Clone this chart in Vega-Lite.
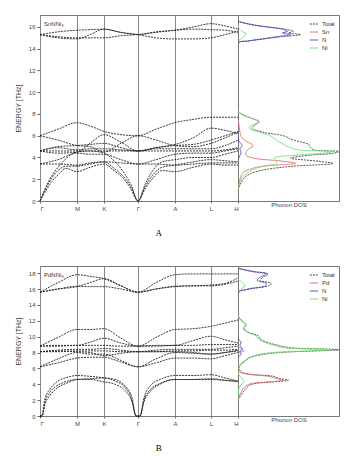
{
"$schema":"https://vega.github.io/schema/vega-lite/v6.json",
"padding":{"left":13,"top":14,"right":16,"bottom":0},
"config":{"font":"Liberation Sans","view":{"stroke":"#777","strokeWidth":1},
"axis":{"labelFontSize":6,"labelColor":"#444","tickColor":"#666","tickSize":3,"labelPadding":2,"titleFontSize":7,"titleFontWeight":"normal","titleColor":"#444","domain":false},
"legend":{"orient":"top-right","title":null,"labelFontSize":6,"labelColor":"#333","symbolType":"stroke","symbolSize":70,"symbolStrokeWidth":1,"rowPadding":-1,"padding":1,"offset":3,"labelOffset":3}},
"datasets":{
"dispA":[
{"b":"a1","k":0,"e":0},{"b":"a1","k":5,"e":0.8},{"b":"a1","k":11,"e":1.7},{"b":"a1","k":18,"e":2.4},{"b":"a1","k":26,"e":3.0},{"b":"a1","k":37,"e":2.7},{"b":"a1","k":50,"e":3.1},{"b":"a1","k":64,"e":3.4},{"b":"a1","k":74,"e":2.8},{"b":"a1","k":84,"e":2.0},{"b":"a1","k":91,"e":1.1},{"b":"a1","k":98,"e":0},{"b":"a1","k":105,"e":1.1},{"b":"a1","k":112,"e":2.0},{"b":"a1","k":122,"e":2.8},{"b":"a1","k":135,"e":2.7},{"b":"a1","k":153,"e":3.1},{"b":"a1","k":171,"e":3.4},{"b":"a1","k":185,"e":3.3},{"b":"a1","k":198,"e":3.3},
{"b":"a2","k":0,"e":0},{"b":"a2","k":5,"e":1.0},{"b":"a2","k":11,"e":2.0},{"b":"a2","k":18,"e":2.8},{"b":"a2","k":26,"e":3.2},{"b":"a2","k":37,"e":3.2},{"b":"a2","k":50,"e":3.4},{"b":"a2","k":64,"e":3.6},{"b":"a2","k":74,"e":3.0},{"b":"a2","k":84,"e":2.2},{"b":"a2","k":91,"e":1.3},{"b":"a2","k":98,"e":0},{"b":"a2","k":105,"e":1.3},{"b":"a2","k":112,"e":2.3},{"b":"a2","k":122,"e":3.1},{"b":"a2","k":135,"e":3.3},{"b":"a2","k":153,"e":3.6},{"b":"a2","k":171,"e":3.8},{"b":"a2","k":185,"e":3.7},{"b":"a2","k":198,"e":3.6},
{"b":"a3","k":0,"e":0},{"b":"a3","k":5,"e":1.1},{"b":"a3","k":11,"e":2.2},{"b":"a3","k":18,"e":3.1},{"b":"a3","k":26,"e":3.9},{"b":"a3","k":37,"e":4.5},{"b":"a3","k":50,"e":4.6},{"b":"a3","k":64,"e":4.4},{"b":"a3","k":74,"e":3.7},{"b":"a3","k":84,"e":2.6},{"b":"a3","k":91,"e":1.5},{"b":"a3","k":98,"e":0},{"b":"a3","k":105,"e":1.5},{"b":"a3","k":112,"e":2.7},{"b":"a3","k":122,"e":3.6},{"b":"a3","k":135,"e":3.8},{"b":"a3","k":153,"e":4.0},{"b":"a3","k":171,"e":4.0},{"b":"a3","k":185,"e":4.3},{"b":"a3","k":198,"e":4.6},
{"b":"o1","k":0,"e":3.4},{"b":"o1","k":18,"e":3.4},{"b":"o1","k":37,"e":3.3},{"b":"o1","k":50,"e":3.5},{"b":"o1","k":64,"e":3.6},{"b":"o1","k":81,"e":3.5},{"b":"o1","k":98,"e":3.4},{"b":"o1","k":116,"e":3.4},{"b":"o1","k":135,"e":3.3},{"b":"o1","k":153,"e":3.4},{"b":"o1","k":171,"e":3.5},{"b":"o1","k":185,"e":3.5},{"b":"o1","k":198,"e":3.5},
{"b":"o2","k":0,"e":3.4},{"b":"o2","k":18,"e":3.8},{"b":"o2","k":37,"e":4.4},{"b":"o2","k":50,"e":4.3},{"b":"o2","k":64,"e":4.3},{"b":"o2","k":81,"e":3.8},{"b":"o2","k":98,"e":3.4},{"b":"o2","k":116,"e":3.8},{"b":"o2","k":135,"e":4.3},{"b":"o2","k":153,"e":4.4},{"b":"o2","k":171,"e":4.4},{"b":"o2","k":185,"e":4.6},{"b":"o2","k":198,"e":4.8},
{"b":"o3","k":0,"e":4.6},{"b":"o3","k":18,"e":4.6},{"b":"o3","k":37,"e":4.6},{"b":"o3","k":50,"e":4.6},{"b":"o3","k":64,"e":4.6},{"b":"o3","k":81,"e":4.6},{"b":"o3","k":98,"e":4.6},{"b":"o3","k":116,"e":4.6},{"b":"o3","k":135,"e":4.6},{"b":"o3","k":153,"e":4.6},{"b":"o3","k":171,"e":4.6},{"b":"o3","k":185,"e":4.7},{"b":"o3","k":198,"e":4.9},
{"b":"o4","k":0,"e":4.6},{"b":"o4","k":18,"e":4.9},{"b":"o4","k":37,"e":4.7},{"b":"o4","k":50,"e":4.8},{"b":"o4","k":64,"e":4.8},{"b":"o4","k":81,"e":4.7},{"b":"o4","k":98,"e":4.6},{"b":"o4","k":116,"e":4.8},{"b":"o4","k":135,"e":4.8},{"b":"o4","k":153,"e":4.8},{"b":"o4","k":171,"e":4.8},{"b":"o4","k":185,"e":5.1},{"b":"o4","k":198,"e":5.6},
{"b":"o5","k":0,"e":4.6},{"b":"o5","k":18,"e":4.4},{"b":"o5","k":37,"e":4.5},{"b":"o5","k":50,"e":5.3},{"b":"o5","k":64,"e":6.1},{"b":"o5","k":81,"e":5.4},{"b":"o5","k":98,"e":4.6},{"b":"o5","k":116,"e":4.9},{"b":"o5","k":135,"e":5.2},{"b":"o5","k":153,"e":5.8},{"b":"o5","k":171,"e":6.7},{"b":"o5","k":185,"e":6.5},{"b":"o5","k":198,"e":6.2},
{"b":"o6","k":0,"e":6.0},{"b":"o6","k":18,"e":5.6},{"b":"o6","k":37,"e":5.1},{"b":"o6","k":50,"e":5.0},{"b":"o6","k":64,"e":4.5},{"b":"o6","k":81,"e":5.3},{"b":"o6","k":98,"e":6.0},{"b":"o6","k":116,"e":5.6},{"b":"o6","k":135,"e":5.1},{"b":"o6","k":153,"e":5.0},{"b":"o6","k":171,"e":5.3},{"b":"o6","k":185,"e":5.8},{"b":"o6","k":198,"e":6.3},
{"b":"o7","k":0,"e":6.0},{"b":"o7","k":18,"e":6.6},{"b":"o7","k":37,"e":7.2},{"b":"o7","k":50,"e":6.9},{"b":"o7","k":64,"e":6.4},{"b":"o7","k":81,"e":6.1},{"b":"o7","k":98,"e":6.0},{"b":"o7","k":116,"e":6.6},{"b":"o7","k":135,"e":7.2},{"b":"o7","k":153,"e":7.5},{"b":"o7","k":171,"e":7.7},{"b":"o7","k":185,"e":7.7},{"b":"o7","k":198,"e":7.7},
{"b":"o8","k":0,"e":4.6},{"b":"o8","k":18,"e":5.0},{"b":"o8","k":37,"e":5.1},{"b":"o8","k":50,"e":5.2},{"b":"o8","k":64,"e":5.3},{"b":"o8","k":81,"e":4.9},{"b":"o8","k":98,"e":4.6},{"b":"o8","k":116,"e":4.9},{"b":"o8","k":135,"e":5.1},{"b":"o8","k":153,"e":5.2},{"b":"o8","k":171,"e":5.6},{"b":"o8","k":185,"e":6.0},{"b":"o8","k":198,"e":6.4},
{"b":"h1","k":0,"e":15.3},{"b":"h1","k":18,"e":15.0},{"b":"h1","k":37,"e":14.9},{"b":"h1","k":50,"e":15.3},{"b":"h1","k":64,"e":15.8},{"b":"h1","k":81,"e":15.5},{"b":"h1","k":98,"e":15.3},{"b":"h1","k":116,"e":15.0},{"b":"h1","k":135,"e":14.9},{"b":"h1","k":153,"e":14.9},{"b":"h1","k":171,"e":15.0},{"b":"h1","k":185,"e":15.3},{"b":"h1","k":198,"e":15.6},
{"b":"h2","k":0,"e":15.3},{"b":"h2","k":18,"e":15.55},{"b":"h2","k":37,"e":15.7},{"b":"h2","k":50,"e":15.75},{"b":"h2","k":64,"e":15.8},{"b":"h2","k":81,"e":15.5},{"b":"h2","k":98,"e":15.3},{"b":"h2","k":116,"e":15.55},{"b":"h2","k":135,"e":15.7},{"b":"h2","k":153,"e":16.0},{"b":"h2","k":171,"e":16.3},{"b":"h2","k":185,"e":16.1},{"b":"h2","k":198,"e":15.8},
{"b":"h3","k":0,"e":15.3},{"b":"h3","k":18,"e":15.1},{"b":"h3","k":37,"e":15.0},{"b":"h3","k":50,"e":15.0},{"b":"h3","k":64,"e":15.0},{"b":"h3","k":81,"e":15.2},{"b":"h3","k":98,"e":15.3},{"b":"h3","k":116,"e":15.5},{"b":"h3","k":135,"e":15.7},{"b":"h3","k":153,"e":15.8},{"b":"h3","k":171,"e":15.75},{"b":"h3","k":185,"e":15.7},{"b":"h3","k":198,"e":15.5}
],
"dosA":[
{"el":"Total","e":1.0,"d":0},{"el":"Total","e":2.0,"d":0.05},{"el":"Total","e":2.5,"d":0.12},{"el":"Total","e":2.9,"d":0.28},{"el":"Total","e":3.2,"d":0.55},{"el":"Total","e":3.45,"d":0.94},{"el":"Total","e":3.65,"d":0.8},{"el":"Total","e":3.95,"d":0.52},{"el":"Total","e":4.2,"d":0.7},{"el":"Total","e":4.4,"d":0.95},{"el":"Total","e":4.55,"d":1.0},{"el":"Total","e":4.7,"d":0.75},{"el":"Total","e":4.9,"d":0.72},{"el":"Total","e":5.2,"d":0.7},{"el":"Total","e":5.6,"d":0.55},{"el":"Total","e":6.0,"d":0.45},{"el":"Total","e":6.3,"d":0.26},{"el":"Total","e":6.7,"d":0.14},{"el":"Total","e":7.0,"d":0.17},{"el":"Total","e":7.3,"d":0.21},{"el":"Total","e":7.6,"d":0.14},{"el":"Total","e":7.9,"d":0.06},{"el":"Total","e":8.3,"d":0},{"el":"Total","e":14.5,"d":0},{"el":"Total","e":14.7,"d":0.1},{"el":"Total","e":14.9,"d":0.26},{"el":"Total","e":15.1,"d":0.43},{"el":"Total","e":15.3,"d":0.62},{"el":"Total","e":15.45,"d":0.5},{"el":"Total","e":15.6,"d":0.55},{"el":"Total","e":15.8,"d":0.46},{"el":"Total","e":16.0,"d":0.3},{"el":"Total","e":16.2,"d":0.15},{"el":"Total","e":16.5,"d":0},
{"el":"Sn","e":1.0,"d":0},{"el":"Sn","e":2.0,"d":0.02},{"el":"Sn","e":2.6,"d":0.05},{"el":"Sn","e":2.9,"d":0.11},{"el":"Sn","e":3.2,"d":0.25},{"el":"Sn","e":3.45,"d":0.57},{"el":"Sn","e":3.7,"d":0.4},{"el":"Sn","e":3.9,"d":0.18},{"el":"Sn","e":4.2,"d":0.08},{"el":"Sn","e":4.5,"d":0.08},{"el":"Sn","e":4.8,"d":0.11},{"el":"Sn","e":5.1,"d":0.15},{"el":"Sn","e":5.4,"d":0.1},{"el":"Sn","e":5.8,"d":0.04},{"el":"Sn","e":6.3,"d":0.02},{"el":"Sn","e":7.0,"d":0.01},{"el":"Sn","e":7.5,"d":0},
{"el":"N","e":3.8,"d":0},{"el":"N","e":4.2,"d":0.02},{"el":"N","e":4.5,"d":0.03},{"el":"N","e":4.8,"d":0.02},{"el":"N","e":5.1,"d":0.04},{"el":"N","e":5.5,"d":0.01},{"el":"N","e":6.0,"d":0},{"el":"N","e":14.5,"d":0},{"el":"N","e":14.7,"d":0.09},{"el":"N","e":14.9,"d":0.24},{"el":"N","e":15.1,"d":0.38},{"el":"N","e":15.3,"d":0.52},{"el":"N","e":15.45,"d":0.44},{"el":"N","e":15.6,"d":0.49},{"el":"N","e":15.8,"d":0.44},{"el":"N","e":16.0,"d":0.29},{"el":"N","e":16.2,"d":0.14},{"el":"N","e":16.5,"d":0},
{"el":"Ni","e":1.0,"d":0},{"el":"Ni","e":2.0,"d":0.03},{"el":"Ni","e":2.5,"d":0.08},{"el":"Ni","e":2.9,"d":0.15},{"el":"Ni","e":3.2,"d":0.25},{"el":"Ni","e":3.45,"d":0.38},{"el":"Ni","e":3.7,"d":0.38},{"el":"Ni","e":3.95,"d":0.36},{"el":"Ni","e":4.2,"d":0.55},{"el":"Ni","e":4.4,"d":0.85},{"el":"Ni","e":4.55,"d":0.94},{"el":"Ni","e":4.7,"d":0.6},{"el":"Ni","e":4.9,"d":0.52},{"el":"Ni","e":5.2,"d":0.45},{"el":"Ni","e":5.6,"d":0.38},{"el":"Ni","e":6.0,"d":0.32},{"el":"Ni","e":6.3,"d":0.22},{"el":"Ni","e":6.7,"d":0.11},{"el":"Ni","e":7.0,"d":0.15},{"el":"Ni","e":7.3,"d":0.2},{"el":"Ni","e":7.6,"d":0.13},{"el":"Ni","e":7.9,"d":0.05},{"el":"Ni","e":8.3,"d":0},{"el":"Ni","e":14.6,"d":0},{"el":"Ni","e":14.9,"d":0.03},{"el":"Ni","e":15.2,"d":0.07},{"el":"Ni","e":15.4,"d":0.08},{"el":"Ni","e":15.6,"d":0.04},{"el":"Ni","e":15.9,"d":0.01},{"el":"Ni","e":16.2,"d":0}
],
"dispB":[
{"b":"a1","k":0,"e":0},{"b":"a1","k":2,"e":0},{"b":"a1","k":5,"e":1.8},{"b":"a1","k":10,"e":3.0},{"b":"a1","k":18,"e":3.9},{"b":"a1","k":28,"e":4.4},{"b":"a1","k":37,"e":4.6},{"b":"a1","k":50,"e":4.6},{"b":"a1","k":64,"e":4.3},{"b":"a1","k":75,"e":4.0},{"b":"a1","k":85,"e":3.2},{"b":"a1","k":92,"e":1.8},{"b":"a1","k":96,"e":0},{"b":"a1","k":100,"e":0},{"b":"a1","k":104,"e":1.8},{"b":"a1","k":111,"e":3.2},{"b":"a1","k":120,"e":4.0},{"b":"a1","k":135,"e":4.6},{"b":"a1","k":153,"e":4.6},{"b":"a1","k":171,"e":4.7},{"b":"a1","k":185,"e":4.5},{"b":"a1","k":198,"e":4.3},
{"b":"a2","k":0,"e":0},{"b":"a2","k":2,"e":0},{"b":"a2","k":5,"e":1.5},{"b":"a2","k":10,"e":2.6},{"b":"a2","k":18,"e":3.6},{"b":"a2","k":28,"e":4.2},{"b":"a2","k":37,"e":4.6},{"b":"a2","k":50,"e":4.7},{"b":"a2","k":64,"e":4.8},{"b":"a2","k":75,"e":4.4},{"b":"a2","k":85,"e":3.6},{"b":"a2","k":92,"e":2.0},{"b":"a2","k":96,"e":0},{"b":"a2","k":100,"e":0},{"b":"a2","k":104,"e":2.0},{"b":"a2","k":111,"e":3.4},{"b":"a2","k":120,"e":4.1},{"b":"a2","k":135,"e":4.6},{"b":"a2","k":153,"e":4.6},{"b":"a2","k":171,"e":4.6},{"b":"a2","k":185,"e":4.5},{"b":"a2","k":198,"e":4.4},
{"b":"a3","k":0,"e":0},{"b":"a3","k":2,"e":0},{"b":"a3","k":5,"e":2.2},{"b":"a3","k":10,"e":3.4},{"b":"a3","k":18,"e":4.4},{"b":"a3","k":28,"e":4.9},{"b":"a3","k":37,"e":5.1},{"b":"a3","k":50,"e":5.0},{"b":"a3","k":64,"e":4.8},{"b":"a3","k":75,"e":4.6},{"b":"a3","k":85,"e":3.8},{"b":"a3","k":92,"e":2.3},{"b":"a3","k":96,"e":0},{"b":"a3","k":100,"e":0},{"b":"a3","k":104,"e":2.3},{"b":"a3","k":111,"e":3.9},{"b":"a3","k":120,"e":4.6},{"b":"a3","k":135,"e":5.1},{"b":"a3","k":153,"e":5.1},{"b":"a3","k":171,"e":5.2},{"b":"a3","k":185,"e":4.8},{"b":"a3","k":198,"e":4.4},
{"b":"m1","k":0,"e":6.2},{"b":"m1","k":18,"e":6.7},{"b":"m1","k":37,"e":7.3},{"b":"m1","k":50,"e":7.4},{"b":"m1","k":64,"e":7.4},{"b":"m1","k":81,"e":6.8},{"b":"m1","k":98,"e":6.2},{"b":"m1","k":116,"e":6.7},{"b":"m1","k":135,"e":7.3},{"b":"m1","k":153,"e":7.3},{"b":"m1","k":171,"e":7.2},{"b":"m1","k":185,"e":7.6},{"b":"m1","k":198,"e":8.0},
{"b":"m2","k":0,"e":6.2},{"b":"m2","k":18,"e":7.2},{"b":"m2","k":37,"e":8.0},{"b":"m2","k":50,"e":7.8},{"b":"m2","k":64,"e":7.8},{"b":"m2","k":81,"e":7.0},{"b":"m2","k":98,"e":6.2},{"b":"m2","k":116,"e":7.2},{"b":"m2","k":135,"e":8.0},{"b":"m2","k":153,"e":7.9},{"b":"m2","k":171,"e":7.8},{"b":"m2","k":185,"e":8.0},{"b":"m2","k":198,"e":8.3},
{"b":"m3","k":0,"e":8.1},{"b":"m3","k":18,"e":8.1},{"b":"m3","k":37,"e":8.2},{"b":"m3","k":50,"e":8.2},{"b":"m3","k":64,"e":8.2},{"b":"m3","k":81,"e":8.1},{"b":"m3","k":98,"e":8.1},{"b":"m3","k":116,"e":8.1},{"b":"m3","k":135,"e":8.2},{"b":"m3","k":153,"e":8.2},{"b":"m3","k":171,"e":8.3},{"b":"m3","k":185,"e":8.3},{"b":"m3","k":198,"e":8.4},
{"b":"m4","k":0,"e":8.1},{"b":"m4","k":18,"e":8.3},{"b":"m4","k":37,"e":8.4},{"b":"m4","k":50,"e":8.4},{"b":"m4","k":64,"e":8.5},{"b":"m4","k":81,"e":8.3},{"b":"m4","k":98,"e":8.1},{"b":"m4","k":116,"e":8.3},{"b":"m4","k":135,"e":8.4},{"b":"m4","k":153,"e":8.4},{"b":"m4","k":171,"e":8.4},{"b":"m4","k":185,"e":8.6},{"b":"m4","k":198,"e":8.8},
{"b":"m5","k":0,"e":8.8},{"b":"m5","k":18,"e":8.8},{"b":"m5","k":37,"e":8.9},{"b":"m5","k":50,"e":8.9},{"b":"m5","k":64,"e":8.9},{"b":"m5","k":81,"e":8.8},{"b":"m5","k":98,"e":8.8},{"b":"m5","k":116,"e":8.8},{"b":"m5","k":135,"e":8.9},{"b":"m5","k":153,"e":8.9},{"b":"m5","k":171,"e":9.0},{"b":"m5","k":185,"e":9.0},{"b":"m5","k":198,"e":9.0},
{"b":"m6","k":0,"e":8.8},{"b":"m6","k":18,"e":8.9},{"b":"m6","k":37,"e":8.9},{"b":"m6","k":50,"e":9.3},{"b":"m6","k":64,"e":9.8},{"b":"m6","k":81,"e":9.2},{"b":"m6","k":98,"e":8.8},{"b":"m6","k":116,"e":8.9},{"b":"m6","k":135,"e":8.9},{"b":"m6","k":153,"e":9.5},{"b":"m6","k":171,"e":10.05},{"b":"m6","k":185,"e":9.6},{"b":"m6","k":198,"e":9.2},
{"b":"m7","k":0,"e":8.8},{"b":"m7","k":18,"e":9.9},{"b":"m7","k":37,"e":10.9},{"b":"m7","k":50,"e":10.9},{"b":"m7","k":64,"e":11.0},{"b":"m7","k":81,"e":9.8},{"b":"m7","k":98,"e":8.8},{"b":"m7","k":116,"e":9.9},{"b":"m7","k":135,"e":10.9},{"b":"m7","k":153,"e":11.0},{"b":"m7","k":171,"e":11.3},{"b":"m7","k":185,"e":11.7},{"b":"m7","k":198,"e":12.1},
{"b":"m8","k":0,"e":8.1},{"b":"m8","k":18,"e":8.2},{"b":"m8","k":37,"e":8.1},{"b":"m8","k":50,"e":8.0},{"b":"m8","k":64,"e":7.6},{"b":"m8","k":81,"e":7.9},{"b":"m8","k":98,"e":8.1},{"b":"m8","k":116,"e":8.1},{"b":"m8","k":135,"e":8.1},{"b":"m8","k":153,"e":8.0},{"b":"m8","k":171,"e":7.8},{"b":"m8","k":185,"e":8.0},{"b":"m8","k":198,"e":8.2},
{"b":"h1","k":0,"e":15.6},{"b":"h1","k":18,"e":16.0},{"b":"h1","k":37,"e":16.3},{"b":"h1","k":50,"e":16.8},{"b":"h1","k":64,"e":17.3},{"b":"h1","k":81,"e":16.4},{"b":"h1","k":98,"e":15.6},{"b":"h1","k":116,"e":16.0},{"b":"h1","k":135,"e":16.3},{"b":"h1","k":153,"e":16.4},{"b":"h1","k":171,"e":16.4},{"b":"h1","k":185,"e":16.6},{"b":"h1","k":198,"e":17.0},
{"b":"h2","k":0,"e":15.6},{"b":"h2","k":18,"e":16.8},{"b":"h2","k":37,"e":17.8},{"b":"h2","k":50,"e":17.6},{"b":"h2","k":64,"e":17.3},{"b":"h2","k":81,"e":16.4},{"b":"h2","k":98,"e":15.6},{"b":"h2","k":116,"e":16.8},{"b":"h2","k":135,"e":17.8},{"b":"h2","k":153,"e":17.9},{"b":"h2","k":171,"e":17.9},{"b":"h2","k":185,"e":17.9},{"b":"h2","k":198,"e":17.9},
{"b":"h3","k":0,"e":15.6},{"b":"h3","k":18,"e":16.0},{"b":"h3","k":37,"e":16.35},{"b":"h3","k":50,"e":16.3},{"b":"h3","k":64,"e":16.3},{"b":"h3","k":81,"e":16.0},{"b":"h3","k":98,"e":15.6},{"b":"h3","k":116,"e":16.0},{"b":"h3","k":135,"e":16.35},{"b":"h3","k":153,"e":16.4},{"b":"h3","k":171,"e":16.5},{"b":"h3","k":185,"e":16.7},{"b":"h3","k":198,"e":17.4}
],
"dosB":[
{"el":"Total","e":2.0,"d":0},{"el":"Total","e":3.0,"d":0.05},{"el":"Total","e":3.9,"d":0.12},{"el":"Total","e":4.3,"d":0.35},{"el":"Total","e":4.5,"d":0.5},{"el":"Total","e":4.75,"d":0.4},{"el":"Total","e":5.0,"d":0.35},{"el":"Total","e":5.3,"d":0.1},{"el":"Total","e":5.6,"d":0.03},{"el":"Total","e":6.2,"d":0.01},{"el":"Total","e":6.8,"d":0.06},{"el":"Total","e":7.3,"d":0.11},{"el":"Total","e":7.7,"d":0.22},{"el":"Total","e":8.0,"d":0.42},{"el":"Total","e":8.35,"d":1.0},{"el":"Total","e":8.6,"d":0.52},{"el":"Total","e":8.9,"d":0.4},{"el":"Total","e":9.2,"d":0.31},{"el":"Total","e":9.7,"d":0.22},{"el":"Total","e":10.1,"d":0.2},{"el":"Total","e":10.5,"d":0.11},{"el":"Total","e":11.0,"d":0.06},{"el":"Total","e":11.5,"d":0.08},{"el":"Total","e":12.0,"d":0.04},{"el":"Total","e":12.7,"d":0},{"el":"Total","e":15.5,"d":0},{"el":"Total","e":16.0,"d":0.12},{"el":"Total","e":16.4,"d":0.3},{"el":"Total","e":16.7,"d":0.33},{"el":"Total","e":17.1,"d":0.22},{"el":"Total","e":17.5,"d":0.25},{"el":"Total","e":17.9,"d":0.3},{"el":"Total","e":18.2,"d":0.16},{"el":"Total","e":18.6,"d":0},
{"el":"Pd","e":2.0,"d":0},{"el":"Pd","e":3.0,"d":0.03},{"el":"Pd","e":3.9,"d":0.09},{"el":"Pd","e":4.3,"d":0.3},{"el":"Pd","e":4.5,"d":0.45},{"el":"Pd","e":4.75,"d":0.37},{"el":"Pd","e":5.0,"d":0.3},{"el":"Pd","e":5.3,"d":0.08},{"el":"Pd","e":5.6,"d":0.01},{"el":"Pd","e":6.5,"d":0},{"el":"Pd","e":7.9,"d":0},{"el":"Pd","e":8.2,"d":0.06},{"el":"Pd","e":8.5,"d":0.03},{"el":"Pd","e":8.8,"d":0},
{"el":"N","e":7.4,"d":0},{"el":"N","e":7.8,"d":0.03},{"el":"N","e":8.1,"d":0.02},{"el":"N","e":8.5,"d":0.04},{"el":"N","e":8.9,"d":0.02},{"el":"N","e":9.3,"d":0.03},{"el":"N","e":9.8,"d":0},{"el":"N","e":15.5,"d":0},{"el":"N","e":16.0,"d":0.1},{"el":"N","e":16.4,"d":0.27},{"el":"N","e":16.7,"d":0.28},{"el":"N","e":17.1,"d":0.19},{"el":"N","e":17.5,"d":0.22},{"el":"N","e":17.9,"d":0.28},{"el":"N","e":18.2,"d":0.14},{"el":"N","e":18.6,"d":0},
{"el":"Ni","e":2.0,"d":0},{"el":"Ni","e":3.5,"d":0.01},{"el":"Ni","e":3.9,"d":0.03},{"el":"Ni","e":4.3,"d":0.06},{"el":"Ni","e":4.7,"d":0.04},{"el":"Ni","e":5.2,"d":0.01},{"el":"Ni","e":6.2,"d":0},{"el":"Ni","e":6.8,"d":0.05},{"el":"Ni","e":7.3,"d":0.1},{"el":"Ni","e":7.7,"d":0.19},{"el":"Ni","e":8.0,"d":0.35},{"el":"Ni","e":8.35,"d":0.93},{"el":"Ni","e":8.6,"d":0.45},{"el":"Ni","e":8.9,"d":0.36},{"el":"Ni","e":9.2,"d":0.28},{"el":"Ni","e":9.7,"d":0.2},{"el":"Ni","e":10.1,"d":0.18},{"el":"Ni","e":10.5,"d":0.1},{"el":"Ni","e":11.0,"d":0.05},{"el":"Ni","e":11.5,"d":0.07},{"el":"Ni","e":12.0,"d":0.03},{"el":"Ni","e":12.7,"d":0},{"el":"Ni","e":15.6,"d":0},{"el":"Ni","e":16.0,"d":0.03},{"el":"Ni","e":16.4,"d":0.07},{"el":"Ni","e":16.8,"d":0.04},{"el":"Ni","e":17.3,"d":0}
]
},
"vconcat":[
{"title":{"text":"A","orient":"bottom","anchor":"middle","offset":17,"dx":-18,"fontSize":9,"font":"Liberation Serif","fontWeight":"normal","color":"#000"},
"resolve":{"scale":{"color":"independent","strokeDash":"independent"}},
"spacing":0,"bounds":"flush",
"hconcat":[
{"data":{"name":"dispA"},"width":198,"height":186,
"title":{"text":"SnNNi₃","anchor":"start","frame":"group","offset":-12,"dx":4,"fontSize":6,"fontWeight":"normal","color":"#333"},
"mark":{"type":"line","interpolate":"monotone","stroke":"#222","strokeWidth":0.9,"strokeDash":[2,1]},
"encoding":{"x":{"field":"k","type":"quantitative","scale":{"domain":[0,198],"nice":false,"zero":false},
"axis":{"title":null,"values":[0,37,64,98,135,171,198],"grid":true,"gridColor":"#888","gridWidth":1,"tickSize":2,"labelExpr":"datum.value == 37 ? 'M' : datum.value == 64 ? 'K' : datum.value == 135 ? 'A' : datum.value == 171 ? 'L' : datum.value == 198 ? 'H' : 'Γ'"}},
"y":{"field":"e","type":"quantitative","scale":{"domain":[0,17.1],"nice":false},"axis":{"title":"ENERGY [THz]","values":[0,2,4,6,8,10,12,14,16],"grid":false,"titlePadding":7}},
"detail":{"field":"b"}}},
{"data":{"name":"dosA"},"width":101,"height":186,
"mark":{"type":"line","interpolate":"catmull-rom","strokeWidth":0.9,"clip":true},
"encoding":{"x":{"field":"d","type":"quantitative","scale":{"domain":[0,1],"nice":false},"axis":{"title":"Phonon DOS","labels":false,"ticks":false,"grid":false,"titlePadding":0,"titleFontSize":6}},
"y":{"field":"e","type":"quantitative","scale":{"domain":[0,17.1],"nice":false},"axis":null},
"color":{"field":"el","type":"nominal","scale":{"domain":["Total","Sn","N","Ni"],"range":["#444444","#e06a6a","#4a4ac4","#6cdc6c"]}},
"strokeDash":{"field":"el","type":"nominal","scale":{"domain":["Total","Sn","N","Ni"],"range":[[2,1],[1,0],[1,0],[1,0]]}},
"order":{"field":"e","type":"quantitative"}}}
]},
{"title":{"text":"B","orient":"bottom","anchor":"middle","offset":17,"dx":-18,"fontSize":9,"font":"Liberation Serif","fontWeight":"normal","color":"#000"},
"resolve":{"scale":{"color":"independent","strokeDash":"independent"}},
"spacing":0,"bounds":"flush",
"hconcat":[
{"data":{"name":"dispB"},"width":198,"height":150,
"title":{"text":"PdNNi₃","anchor":"start","frame":"group","offset":-12,"dx":4,"fontSize":6,"fontWeight":"normal","color":"#333"},
"mark":{"type":"line","interpolate":"monotone","stroke":"#222","strokeWidth":0.9,"strokeDash":[2,1]},
"encoding":{"x":{"field":"k","type":"quantitative","scale":{"domain":[0,198],"nice":false,"zero":false},
"axis":{"title":null,"values":[0,37,64,98,135,171,198],"grid":true,"gridColor":"#888","gridWidth":1,"tickSize":2,"labelExpr":"datum.value == 37 ? 'M' : datum.value == 64 ? 'K' : datum.value == 135 ? 'A' : datum.value == 171 ? 'L' : datum.value == 198 ? 'H' : 'Γ'"}},
"y":{"field":"e","type":"quantitative","scale":{"domain":[0,18.9],"nice":false},"axis":{"title":"ENERGY [THz]","values":[0,2,4,6,8,10,12,14,16,18],"grid":false,"titlePadding":7}},
"detail":{"field":"b"}}},
{"data":{"name":"dosB"},"width":101,"height":150,
"mark":{"type":"line","interpolate":"catmull-rom","strokeWidth":0.9,"clip":true},
"encoding":{"x":{"field":"d","type":"quantitative","scale":{"domain":[0,1],"nice":false},"axis":{"title":"Phonon DOS","labels":false,"ticks":false,"grid":false,"titlePadding":0,"titleFontSize":6}},
"y":{"field":"e","type":"quantitative","scale":{"domain":[0,18.9],"nice":false},"axis":null},
"color":{"field":"el","type":"nominal","scale":{"domain":["Total","Pd","N","Ni"],"range":["#444444","#e06a6a","#4a4ac4","#6cdc6c"]}},
"strokeDash":{"field":"el","type":"nominal","scale":{"domain":["Total","Pd","N","Ni"],"range":[[2,1],[1,0],[1,0],[1,0]]}},
"order":{"field":"e","type":"quantitative"}}}
]}
],
"spacing":27,
"resolve":{"scale":{"color":"independent","strokeDash":"independent","x":"independent","y":"independent"},"legend":{"color":"independent","strokeDash":"independent"}}
}
